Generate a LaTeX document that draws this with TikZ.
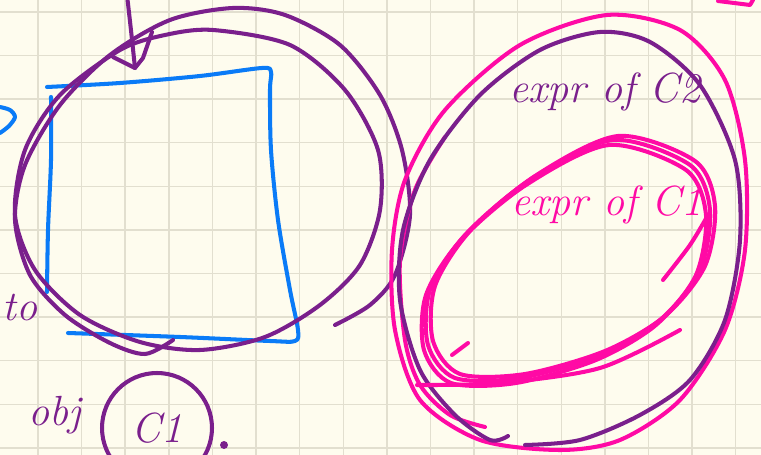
\documentclass[tikz,border=0pt]{standalone}
\usepackage{tikz}
\usetikzlibrary{calc,positioning,shapes.geometric}
\definecolor{paper}{HTML}{FEFCEE}
\definecolor{gridgrey}{HTML}{E2DFCF}
\definecolor{inkpurple}{HTML}{7A1F8C}
\definecolor{inkpink}{HTML}{FF0AA5}
\definecolor{inkblue}{HTML}{0A7BF7}
\tikzset{
  pen/.style={line width=2.3pt, line cap=round, line join=round},
  purplepen/.style={pen, draw=inkpurple},
  pinkpen/.style={pen, draw=inkpink},
  bluepen/.style={pen, draw=inkblue},
  gridline/.style={draw=gridgrey, line width=0.8pt},
  scrawl/.style={font=\fontsize{24}{28}\selectfont\itshape, inner sep=0pt}
}

\begin{document}
\begin{tikzpicture}[x=0.02cm, y=-0.02cm]
  \useasboundingbox (0,0) rectangle (761,455);
  \fill[paper] (0,0) rectangle (761,455);
  \clip (0,0) rectangle (761,455);

  % squared paper
  \foreach \k in {0,...,16} \draw[gridline] (38+43.6*\k,0) -- (38+43.6*\k,455);
  \foreach \k in {0,...,10} \draw[gridline] (0,12+43.6*\k) -- (761,12+43.6*\k);

  % blue square
  \draw[bluepen] plot[smooth, tension=0.5] coordinates {(47,87) (120,83) (200,76) (262,68) (271,72) (270,90) (271,150) (278,220) (290,290) (298,330) (295,341) (270,341) (180,337) (68,333)};
  \draw[bluepen] plot[smooth] coordinates {(51,97) (51,160) (48,230) (47,292)};
  \draw[bluepen] plot[smooth] coordinates {(0,107) (10,110) (15,117) (9,126) (0,133)};

  % purple circle round the square
  \draw[purplepen] plot[smooth] coordinates {(335,325) (370,305) (395,275) (410,215) (402,150) (380,95) (340,45) (285,15) (233,8) (170,20) (110,55) (60,105) (25,165) (15,220) (30,275) (65,315) (110,343) (145,354) (173,340)};
  \draw[purplepen] plot[smooth cycle] coordinates {(213,30) (290,45) (345,90) (378,150) (380,210) (360,265) (320,305) (265,337) (200,350) (140,342) (80,315) (35,270) (15,215) (25,150) (60,95) (120,50) (165,35)};

  % arrow from above
  \coordinate (arrowtail) at (127,-5);
  \coordinate (arrowtip) at (135,68);
  \draw[purplepen] (arrowtail) .. controls (131,30) .. (arrowtip);
  \draw[purplepen] ($(arrowtip)+(-22,-11)$) -- (arrowtip) -- ($(arrowtip)+(8,-10)$) -- ($(arrowtip)+(17,-36)$);

  % right group: C2 and C1
  \draw[pinkpen] plot[smooth cycle] coordinates {(607,15) (680,30) (725,80) (745,160) (745,250) (725,330) (680,400) (620,440) (560,450) (480,440) (420,400) (395,330) (392,250) (405,180) (445,110) (520,45)};
  \draw[pinkpen] plot[smooth] coordinates {(445,137) (415,190) (400,260) (405,340) (420,385) (450,415) (485,427)};
  \draw[purplepen] plot[smooth] coordinates {(525,445) (580,440) (640,415) (690,380) (725,320) (740,240) (735,160) (700,85) (650,42) (600,32) (540,50) (480,95) (430,160) (403,230) (400,300) (420,370) (455,415) (490,440) (508,436)};
  \foreach \dx/\dy in {0/0, 5/-4, -4/5} {
    \draw[pinkpen, shift={(\dx,\dy)}] plot[smooth cycle] coordinates {(613,140) (690,165) (710,210) (700,270) (660,320) (600,355) (520,378) (455,378) (428,345) (430,290) (465,235) (530,180)};
  }
  \draw[pinkpen] plot[smooth] coordinates {(417,385) (500,383) (600,368) (680,330)};
  \draw[pinkpen] plot[smooth] coordinates {(663,280) (690,245) (708,215)};
  \draw[pinkpen] (452,355) -- (468,343);
  \draw[pinkpen] (718,1) -- (750,5) -- (753,0);

  % labels
  \node[scrawl, text=inkpurple] (exprtwo) at (605,92) {expr of C2};
  \node[scrawl, text=inkpink] (exprone) at (607,205) {expr of C1};
  \node[scrawl, text=inkpurple, anchor=west] (to) at (2,308) {to};
  \node[scrawl, text=inkpurple] (obj) at (55,415) {obj};
  \node[scrawl, text=inkpurple, circle, purplepen, minimum size=2.2cm] (cone) at (157,428) {C1};
  \node[circle, fill=inkpurple, inner sep=1.6pt] (dot) at (224,445) {};
\end{tikzpicture}
\end{document}
